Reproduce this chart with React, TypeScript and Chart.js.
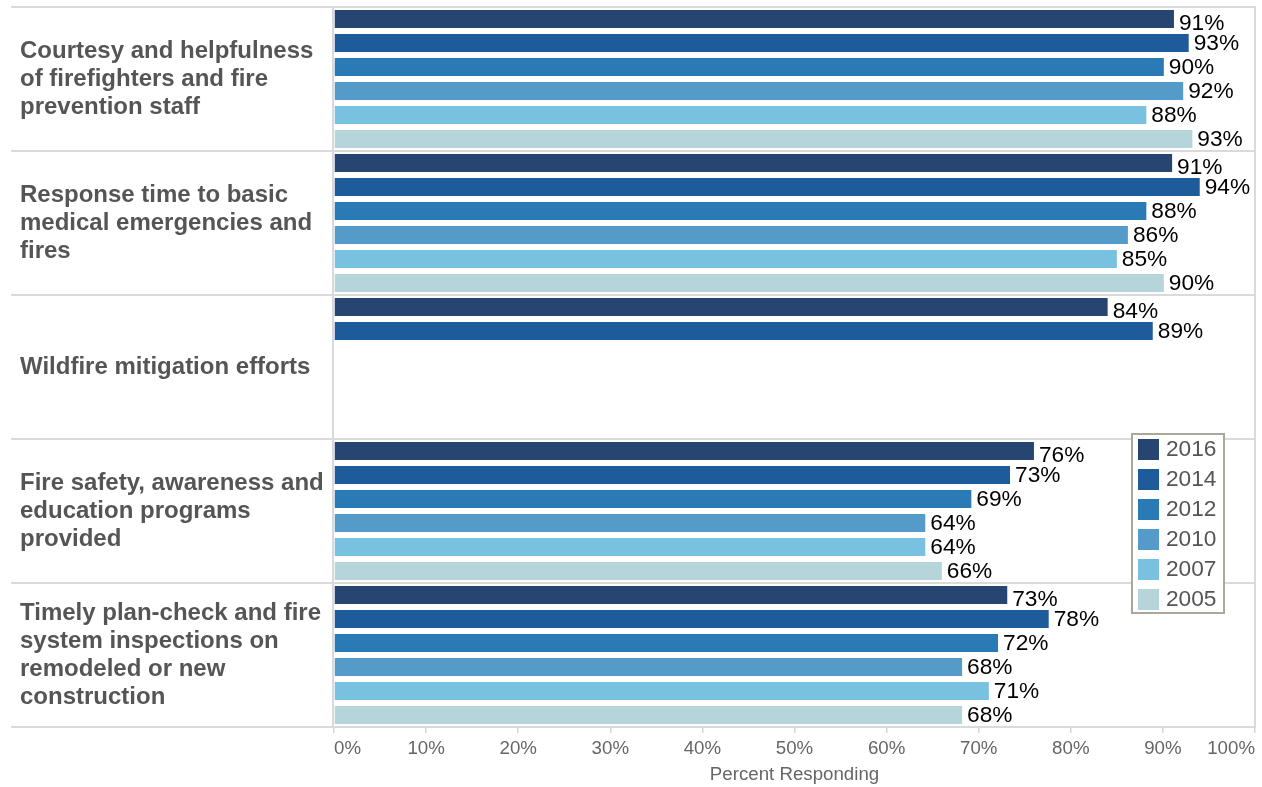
import React, { useEffect, useRef } from "react";
import { Chart, registerables } from "chart.js";

Chart.register(...registerables);

const categories: string[][] = [
  ["Courtesy and helpfulness", "of firefighters and fire", "prevention staff"],
  ["Response time to basic", "medical emergencies and", "fires"],
  ["Wildfire mitigation efforts"],
  ["Fire safety, awareness and", "education programs", "provided"],
  ["Timely plan-check and fire", "system inspections on", "remodeled or new", "construction"],
];

const years = ["2016", "2014", "2012", "2010", "2007", "2005"];
const yearColors = ["#264570", "#1d5b9b", "#2a7bb5", "#559bc9", "#78c1e0", "#b5d5db"];

const values2016 = [91.2, 91.0, 84.0, 76.0, 73.1];
const values2014 = [92.8, 94.0, 88.9, 73.4, 77.6];
const values2012 = [90.1, 88.2, null, 69.2, 72.1];
const values2010 = [92.2, 86.2, null, 64.2, 68.2];
const values2007 = [88.2, 85.0, null, 64.2, 71.1];
const values2005 = [93.2, 90.1, null, 66.0, 68.2];

const series = [values2016, values2014, values2012, values2010, values2007, values2005];

const xMin = 0;
const xMax = 100;
const xStep = 10;
const xTitle = "Percent Responding";

const FONT = '"Liberation Sans", Arial, sans-serif';

const framePlugin = {
  id: "frame",
  beforeDatasetsDraw(chart: any) {
    const { ctx, chartArea } = chart;
    const n = categories.length;
    const band = (chartArea.bottom - chartArea.top) / n;
    ctx.save();
    ctx.strokeStyle = "#dadada";
    ctx.lineWidth = 2;
    for (let i = 0; i <= n; i++) {
      const y = chartArea.top + i * band;
      ctx.beginPath();
      ctx.moveTo(11, y);
      ctx.lineTo(chartArea.right + 1, y);
      ctx.stroke();
    }
    ctx.beginPath();
    ctx.moveTo(chartArea.left - 1, chartArea.top - 1);
    ctx.lineTo(chartArea.left - 1, chartArea.bottom + 1);
    ctx.moveTo(chartArea.right, chartArea.top - 1);
    ctx.lineTo(chartArea.right, chartArea.bottom + 1);
    ctx.stroke();
    ctx.restore();
  },
};

const labelPlugin = {
  id: "valueLabels",
  afterDatasetsDraw(chart: any) {
    const { ctx } = chart;
    ctx.save();
    ctx.font = `22.7px ${FONT}`;
    ctx.fillStyle = "#000";
    ctx.textAlign = "left";
    ctx.textBaseline = "middle";
    chart.data.datasets.forEach((ds: any, di: number) => {
      const meta = chart.getDatasetMeta(di);
      meta.data.forEach((el: any, j: number) => {
        const v = ds.data[j];
        if (v === null || v === undefined) return;
        ctx.fillText(Math.round(v) + "%", el.x + 5, el.y + 1 + (di === 0 ? 4 : 0));
      });
    });
    ctx.restore();
  },
};

const legendPlugin = {
  id: "floatLegend",
  afterDraw(chart: any) {
    const { ctx, chartArea } = chart;
    const left = chartArea.right - 123;
    const top = chartArea.top + 427;
    const w = 92;
    const h = 179;
    ctx.save();
    ctx.fillStyle = "#fff";
    ctx.fillRect(left, top, w, h);
    ctx.strokeStyle = "#aaa89c";
    ctx.lineWidth = 2;
    ctx.strokeRect(left, top, w, h);
    ctx.font = `22.7px ${FONT}`;
    ctx.textAlign = "left";
    ctx.textBaseline = "middle";
    years.forEach((yr, i) => {
      ctx.fillStyle = yearColors[i];
      ctx.fillRect(left + 6, top + 5 + i * 30, 21, 21);
      ctx.fillStyle = "#555";
      ctx.fillText(yr, left + 34, top + 16 + i * 30);
    });
    ctx.restore();
  },
};

export default function App() {
  const ref = useRef<HTMLCanvasElement>(null);
  useEffect(() => {
    const canvas = ref.current;
    if (!canvas) return;
    const chart = new Chart(canvas, {
      type: "bar",
      data: {
        labels: categories,
        datasets: years.map((y, i) => ({
          label: y,
          data: series[i],
          backgroundColor: yearColors[i],
          categoryPercentage: 1,
          barPercentage: 0.75,
        })),
      },
      options: {
        indexAxis: "y",
        animation: false,
        responsive: false,
        maintainAspectRatio: false,
        layout: { padding: { left: 20, top: 7, right: 7, bottom: 0 } },
        plugins: {
          legend: { display: false },
          tooltip: { enabled: false },
        },
        scales: {
          x: {
            type: "linear",
            min: xMin,
            max: xMax,
            ticks: {
              stepSize: xStep,
              callback: (v: any) => v + "%",
              align: "inner",
              font: { family: FONT, size: 18.7 },
              color: "#666",
              padding: 5,
              maxRotation: 0,
            },
            grid: {
              drawOnChartArea: false,
              drawTicks: true,
              tickLength: 6,
              color: "#d6d6d6",
              lineWidth: 1.5,
            },
            border: { display: false },
            title: {
              display: true,
              text: xTitle,
              font: { family: FONT, size: 18.7 },
              color: "#666",
              padding: { top: 0, bottom: 1 },
            },
            afterFit: (s: any) => {
              s.height = 60;
              s.paddingLeft = 0;
              s.paddingRight = 0;
            },
          },
          y: {
            type: "category",
            ticks: {
              crossAlign: "far",
              font: { family: FONT, size: 24, weight: "bold", lineHeight: 28 / 24 },
              color: "#555",
            },
            grid: { display: false },
            border: { display: false },
            afterFit: (s: any) => {
              s.width = 314;
              s.paddingTop = 0;
              s.paddingBottom = 0;
            },
          },
        },
      } as any,
      plugins: [framePlugin, labelPlugin, legendPlugin],
    });
    return () => chart.destroy();
  }, []);
  return (
    <div style={{ position: "absolute", left: 0, top: 0, width: 1262, height: 787, background: "#fff" }}>
      <canvas ref={ref} width={1262} height={787} style={{ display: "block" }} />
    </div>
  );
}
